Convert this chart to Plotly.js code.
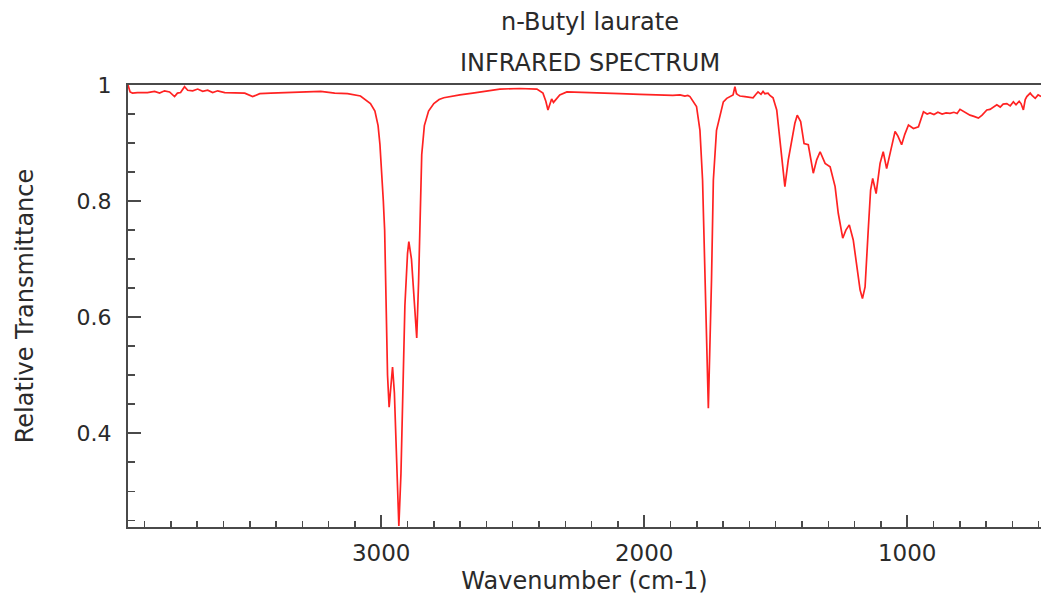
<!DOCTYPE html>
<html>
<head>
<meta charset="utf-8">
<script src="https://cdn.plot.ly/plotly-3.0.1.min.js"></script>
<style>
  html, body { margin: 0; padding: 0; background: #fff; }
  #chart { width: 1041px; height: 595px; }
</style>
</head>
<body>
<div id="chart"></div>
<script>
// Wavenumber (cm-1) values
const wavenumber = [
  3963, 3955, 3946, 3927, 3889, 3862, 3843, 3824, 3805, 3786,
  3775, 3763, 3748, 3736, 3717, 3698, 3679, 3660, 3641, 3622,
  3595, 3557, 3519, 3489, 3462, 3420, 3356, 3291, 3230, 3177,
  3128, 3079, 3041, 3024, 3012, 3005, 2998, 2992, 2987, 2981,
  2976, 2970, 2963, 2957, 2950, 2942, 2933, 2925, 2918, 2910,
  2900, 2895, 2885, 2875, 2865, 2858, 2853, 2846, 2836, 2820,
  2800, 2780, 2762, 2740, 2701, 2652, 2602, 2549, 2473, 2435,
  2408, 2385, 2374, 2366, 2359, 2352, 2345, 2336, 2321, 2294,
  2245, 2169, 2093, 2017, 1940, 1891, 1864, 1845, 1834, 1826,
  1801, 1788, 1778, 1769, 1756, 1744, 1737, 1725, 1712, 1699,
  1686, 1674, 1662, 1655, 1649, 1643, 1636, 1617, 1598, 1586,
  1575, 1567, 1556, 1548, 1541, 1529, 1522, 1510, 1496, 1484,
  1475, 1465, 1452, 1439, 1427, 1418, 1405, 1392, 1376, 1357,
  1344, 1331, 1312, 1293, 1274, 1262, 1245, 1233, 1220, 1205,
  1192, 1179, 1170, 1160, 1148, 1139, 1131, 1118, 1103, 1091,
  1078, 1065, 1046, 1035, 1021, 1009, 995, 976, 957, 938,
  924, 913, 898, 883, 867, 852, 837, 822, 810, 799,
  784, 761, 746, 729, 715, 697, 685, 673, 659, 646,
  635, 621, 608, 596, 586, 574, 567, 558, 551, 545,
  532, 525, 513, 502, 491
];
// Relative transmittance values
const transmittance = [
  1.000, 0.988, 0.986, 0.987, 0.987, 0.989, 0.986, 0.990, 0.988, 0.980,
  0.986, 0.987, 0.997, 0.991, 0.990, 0.993, 0.989, 0.991, 0.987, 0.990,
  0.987, 0.987, 0.986, 0.980, 0.985, 0.986, 0.987, 0.988, 0.989, 0.986,
  0.985, 0.981, 0.968, 0.955, 0.930, 0.898, 0.850, 0.800, 0.750, 0.630,
  0.500, 0.445, 0.490, 0.514, 0.470, 0.360, 0.240, 0.330, 0.480, 0.620,
  0.710, 0.730, 0.700, 0.630, 0.564, 0.660, 0.750, 0.880, 0.930, 0.955,
  0.968, 0.975, 0.978, 0.980, 0.983, 0.986, 0.989, 0.993, 0.994, 0.993,
  0.993, 0.986, 0.972, 0.957, 0.965, 0.976, 0.970, 0.975, 0.983, 0.988,
  0.987, 0.986, 0.985, 0.984, 0.983, 0.982, 0.983, 0.981, 0.982, 0.980,
  0.963, 0.922, 0.836, 0.664, 0.443, 0.664, 0.836, 0.922, 0.945, 0.971,
  0.977, 0.980, 0.983, 0.997, 0.985, 0.983, 0.981, 0.980, 0.979, 0.978,
  0.984, 0.988, 0.984, 0.989, 0.985, 0.986, 0.982, 0.978, 0.957, 0.905,
  0.859, 0.825, 0.871, 0.905, 0.934, 0.948, 0.937, 0.899, 0.897, 0.848,
  0.871, 0.885, 0.865, 0.859, 0.825, 0.779, 0.736, 0.750, 0.759, 0.733,
  0.687, 0.647, 0.632, 0.652, 0.750, 0.819, 0.839, 0.813, 0.865, 0.885,
  0.856, 0.880, 0.920, 0.912, 0.897, 0.915, 0.931, 0.925, 0.928, 0.954,
  0.950, 0.952, 0.949, 0.953, 0.950, 0.952, 0.951, 0.953, 0.951, 0.958,
  0.954, 0.948, 0.946, 0.943, 0.948, 0.957, 0.958, 0.962, 0.966, 0.962,
  0.967, 0.968, 0.964, 0.971, 0.966, 0.972, 0.968, 0.957, 0.975, 0.980,
  0.986, 0.982, 0.977, 0.983, 0.980
];
const compoundName = 'n-Butyl laurate';
const subtitleText = 'INFRARED SPECTRUM';
const xTitle = 'Wavenumber (cm-1)';
const yTitle = 'Relative Transmittance';

const font = 'DejaVu Sans, sans-serif';
const axisColor = '#4a4a4a';
const textColor = '#2a2a2a';

const trace = {
  x: wavenumber,
  y: transmittance,
  type: 'scatter',
  mode: 'lines',
  line: { color: '#ff2222', width: 1.7 },
  hoverinfo: 'x+y'
};

const layout = {
  width: 1041,
  height: 595,
  margin: { l: 128, r: 0, t: 85, b: 68 },
  paper_bgcolor: '#ffffff',
  plot_bgcolor: '#ffffff',
  showlegend: false,
  font: { family: font, color: textColor, size: 22 },
  title: {
    text: compoundName,
    font: { family: font, size: 24, color: textColor },
    xref: 'paper', x: 0.506, xanchor: 'center',
    yref: 'container', y: 1 - 22 / 595, yanchor: 'middle'
  },
  annotations: [{
    text: subtitleText,
    xref: 'paper', x: 0.506, xanchor: 'center',
    yref: 'paper', y: 1.0498, yanchor: 'middle',
    showarrow: false,
    font: { family: font, size: 24, color: textColor }
  }],
  xaxis: {
    range: [3963, 491],
    autorange: false,
    showgrid: false,
    zeroline: false,
    showline: true,
    linecolor: axisColor,
    linewidth: 2,
    mirror: true,
    ticks: 'inside',
    ticklen: 12,
    tickwidth: 2,
    tickcolor: axisColor,
    tick0: 0,
    dtick: 1000,
    ticklabelstandoff: 4,
    tickfont: { family: font, size: 23, color: textColor },
    minor: { ticks: 'inside', dtick: 100, tick0: 0, ticklen: 6, tickwidth: 1.5, tickcolor: axisColor, showgrid: false },
    title: { text: xTitle, font: { family: font, size: 24, color: textColor }, standoff: 10 }
  },
  yaxis: {
    range: [0.2384, 1.0],
    autorange: false,
    showgrid: false,
    zeroline: false,
    showline: true,
    linecolor: axisColor,
    linewidth: 2,
    ticks: 'inside',
    ticklen: 13,
    tickwidth: 2,
    tickcolor: axisColor,
    tick0: 0,
    dtick: 0.2,
    ticklabelstandoff: 10,
    tickfont: { family: font, size: 22, color: textColor },
    minor: { ticks: 'inside', dtick: 0.05, tick0: 0, ticklen: 7, tickwidth: 1.5, tickcolor: axisColor, showgrid: false },
    title: { text: yTitle, font: { family: font, size: 24, color: textColor }, standoff: 36 }
  }
};

Plotly.newPlot('chart', [trace], layout, { displayModeBar: false, staticPlot: true });
</script>
</body>
</html>
